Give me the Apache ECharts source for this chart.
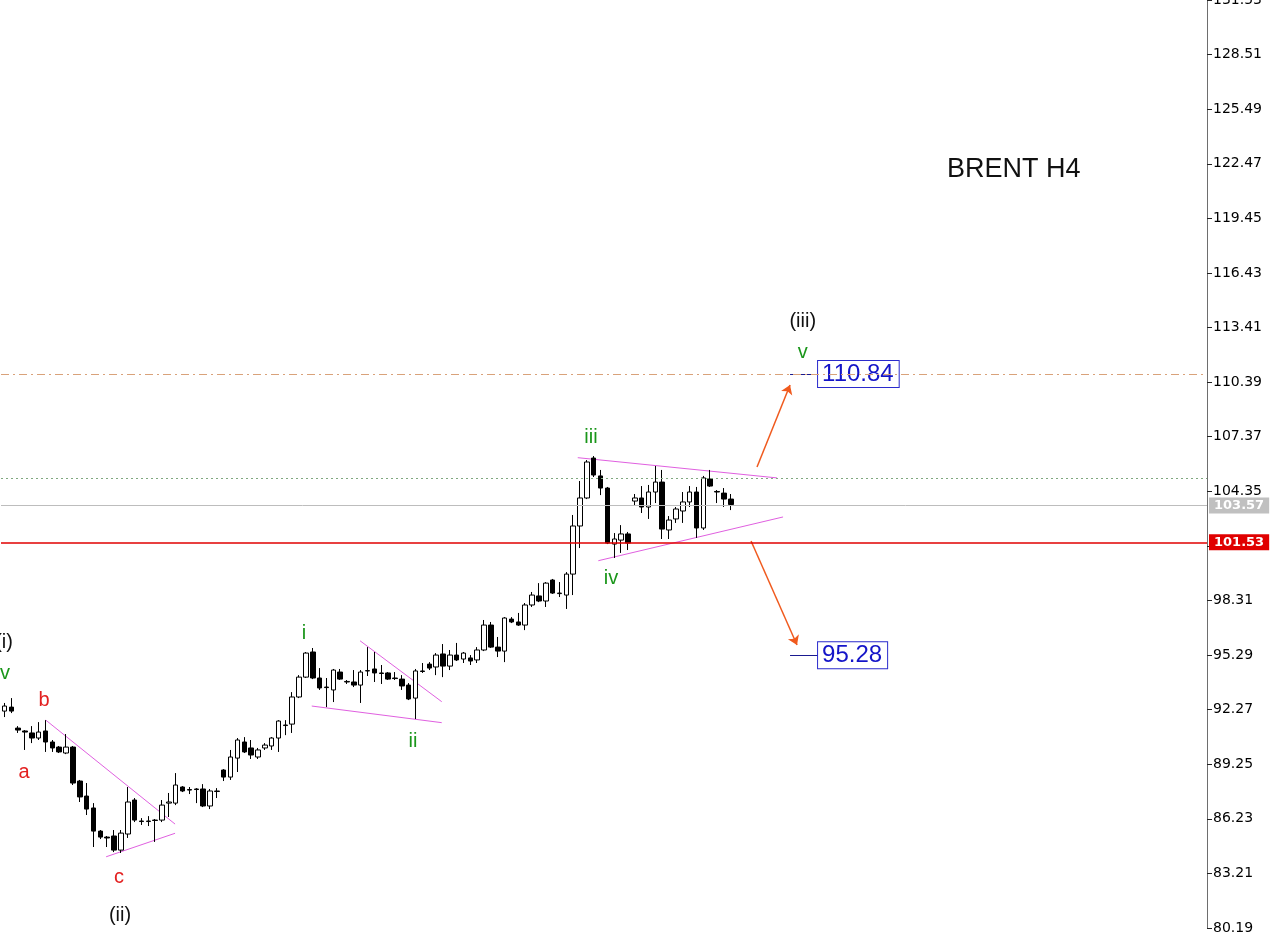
<!DOCTYPE html>
<html><head><meta charset="utf-8">
<script src="https://cdn.jsdelivr.net/npm/echarts/dist/echarts.min.js"></script>
<style>html,body{margin:0;padding:0;background:#fff}#c{width:1280px;height:940px}</style>
</head><body><div id="c"></div>
<script>
// ---- data (BRENT H4) ----
const categories = Array.from({length: 107}, (_, i) => 'Bar ' + (i + 1));
const opens  = [92.19,92.41,91.25,91.09,90.98,90.70,91.09,90.48,90.20,89.87,90.20,88.32,87.49,86.83,85.55,85.22,85.28,84.50,85.39,87.27,86.11,86.08,86.16,86.16,87.10,87.10,87.99,87.85,87.88,87.88,86.94,87.74,88.93,88.54,89.59,90.48,90.15,89.65,90.15,90.26,90.70,91.39,91.47,92.97,94.07,95.46,94.02,93.52,93.36,94.35,93.80,93.80,93.63,94.41,94.52,94.30,94.30,94.02,93.96,93.63,92.91,94.41,94.79,94.63,95.35,94.68,95.29,95.07,95.13,95.02,95.57,96.95,95.73,95.51,97.28,97.12,96.95,98.06,98.56,98.28,99.44,98.69,98.61,99.77,102.43,103.98,106.19,105.20,104.53,101.43,101.65,101.99,103.81,103.98,103.48,104.31,104.86,102.21,102.82,103.26,103.76,104.31,102.32,105.03,104.34,104.25,103.92];
const closes = [92.47,92.19,91.14,91.03,90.70,91.03,90.48,90.15,89.93,90.20,88.21,87.44,86.77,85.55,85.22,85.17,84.50,85.44,87.16,86.16,86.08,86.11,86.14,86.99,87.16,88.10,87.77,87.82,87.85,86.94,87.77,87.77,88.54,89.65,90.59,89.93,89.76,90.04,90.31,90.70,91.64,91.42,92.97,94.07,95.40,94.02,93.47,93.49,94.46,93.96,93.83,93.63,94.35,94.43,94.30,94.27,93.96,93.99,93.58,92.86,94.41,94.38,94.57,95.29,94.68,95.29,95.02,95.40,94.96,95.57,96.95,95.73,95.51,97.34,97.12,96.95,98.06,98.61,98.28,99.27,98.72,98.72,99.77,102.43,103.98,105.97,105.25,104.53,101.49,101.71,101.99,101.49,103.98,103.48,104.31,104.86,102.26,102.76,103.37,103.76,104.31,102.32,105.09,104.64,104.31,103.92,103.62];
const lows   = [91.86,92.08,90.98,90.04,90.42,90.59,89.93,89.93,89.87,89.81,88.10,87.16,86.44,84.67,85.11,84.67,84.39,84.34,85.17,86.05,85.89,85.83,84.95,86.05,86.33,86.99,87.71,87.60,87.10,86.88,86.77,87.38,88.32,88.38,88.82,89.87,89.54,89.54,90.04,90.04,89.93,90.86,90.98,92.91,94.02,93.96,93.36,92.41,92.69,93.91,93.69,93.52,92.64,94.13,93.80,93.69,93.91,93.91,93.36,92.80,91.75,94.30,94.46,94.18,94.07,94.46,94.96,94.85,94.74,94.85,95.51,95.68,95.18,94.90,97.06,96.90,96.67,97.95,98.22,97.95,98.67,98.50,97.84,98.61,101.21,103.92,105.14,104.14,101.43,100.66,100.94,101.10,103.59,103.15,102.82,103.70,101.71,101.71,102.60,102.60,103.48,101.77,102.21,104.59,103.70,103.48,103.31];
const highs  = [92.64,92.91,91.36,91.14,91.36,91.58,91.69,90.59,90.26,90.92,90.26,88.38,88.21,87.10,85.61,85.28,85.61,85.61,87.99,87.38,86.27,86.38,86.22,87.27,87.66,88.76,88.04,87.99,87.93,88.15,87.88,87.93,88.98,90.04,90.70,90.75,90.59,90.15,90.42,90.75,91.69,91.69,93.24,94.18,95.46,95.68,94.57,94.02,94.52,94.52,93.91,94.46,94.46,95.73,95.46,94.74,94.35,94.35,94.18,93.74,94.52,94.85,94.90,95.40,95.90,95.57,95.96,95.46,95.29,95.73,97.23,97.12,96.29,97.39,97.39,97.62,98.17,98.78,99.27,99.33,99.50,99.33,99.88,103.04,104.92,106.08,106.30,105.53,104.59,102.04,102.48,102.10,104.20,104.64,104.70,105.75,105.53,102.98,103.48,104.31,104.64,104.59,105.20,105.53,104.42,104.53,104.20];

// horizontal levels
const targetUp = 110.84;
const targetDown = 95.28;
const bidPrice = 103.57;
const supportLevel = 101.53;
const askLevel = 105.09;

// y-axis tick labels
const yMin = 80.19, yMax = 131.53, yStep = 3.02;

// Elliott wave labels: [bar index, price, text, kind]
const waveLabels = [
  [-0.06, 96.01, '(i)', 'black'],
  [0.08, 94.25, 'v', 'green'],
  [5.78, 92.80, 'b', 'red'],
  [2.86, 88.80, 'a', 'red'],
  [16.72, 83.0, 'c', 'red'],
  [16.87, 80.91, '(ii)', 'black'],
  [43.72, 96.51, 'i', 'green'],
  [59.63, 90.53, 'ii', 'green'],
  [85.6, 107.30, 'iii', 'green'],
  [88.52, 99.55, 'iv', 'green'],
  [116.5, 113.77, '(iii)', 'black'],
  [116.5, 112.05, 'v', 'green']
];

// trend lines: [[bar, price], [bar, price]]
const trendLines = [
  [[6.04, 91.69], [24.9, 85.94]],
  [[14.84, 84.13], [24.9, 85.43]],
  [[51.9, 96.08], [63.82, 92.71]],
  [[44.85, 92.47], [63.82, 91.55]],
  [[83.67, 106.21], [112.75, 105.09]],
  [[86.67, 100.51], [113.63, 102.93]]
];

// forecast arrows
const arrows = [
  [[109.83, 105.69], [114.65, 110.23]],
  [[108.96, 101.60], [115.67, 95.85]]
];

// target markers: [from bar, to bar, price]
const targets = [
  [114.65, 118.74, targetUp],
  [114.65, 118.74, targetDown]
];

// ---- chart ----
const SLOTS = 176;
const xCats = categories.concat(Array(SLOTS - categories.length).fill(''));
const candleData = opens.map((o, i) => [o, closes[i], lows[i], highs[i]]);
const colorOf = {black: '#111111', green: '#1a961a', red: '#e32020'};

const chart = echarts.init(document.getElementById('c'), null, {renderer: 'canvas'});
chart.setOption({
  animation: false,
  backgroundColor: '#ffffff',
  title: {
    text: 'BRENT H4', left: 942, top: 151,
    textStyle: {fontFamily: 'Liberation Sans', fontSize: 27, fontWeight: 'normal', color: '#111'}
  },
  grid: {left: 1, right: 73, top: 0, bottom: 12, containLabel: false, outerBoundsMode: 'none'},
  xAxis: [
    {type: 'category', data: xCats, boundaryGap: true, show: false},
    {type: 'value', min: -0.5, max: SLOTS - 0.5, show: false}
  ],
  yAxis: {
    type: 'value', position: 'right', min: yMin, max: yMax, interval: yStep,
    splitLine: {show: false},
    axisLine: {show: true, onZero: false, lineStyle: {color: '#6e6e6e', width: 1}},
    axisTick: {show: true, length: 5, lineStyle: {color: '#222'}},
    axisLabel: {
      formatter: v => v.toFixed(2), color: '#000', fontFamily: 'DejaVu Sans',
      fontSize: 14, margin: 6, showMinLabel: true, showMaxLabel: true
    }
  },
  series: [
    {
      type: 'candlestick', xAxisIndex: 0, yAxisIndex: 0, data: candleData, barWidth: 5,
      itemStyle: {color: '#ffffff', color0: '#000000', borderColor: '#000000', borderColor0: '#000000', borderWidth: 1},
      markLine: {
        silent: true, symbol: ['none', 'none'], animation: false,
        data: [
          {yAxis: targetUp, lineStyle: {color: '#d9a27a', type: [8, 4, 2, 4], width: 1}, label: {show: false}},
          {yAxis: askLevel, lineStyle: {color: '#7fa87f', type: [2, 3], width: 1}, label: {show: false}},
          {yAxis: bidPrice, lineStyle: {color: '#bdbdbd', type: 'solid', width: 1},
            label: {show: true, position: 'end', distance: 2, formatter: bidPrice.toFixed(2), backgroundColor: '#c0c0c0',
              color: '#ffffff', fontFamily: 'DejaVu Sans', fontWeight: 'bold', fontSize: 13, padding: [2, 5, 1, 5]}},
          {yAxis: supportLevel, lineStyle: {color: '#e00000', type: 'solid', width: 1.5},
            label: {show: true, position: 'end', distance: 2, formatter: supportLevel.toFixed(2), backgroundColor: '#e00000',
              color: '#ffffff', fontFamily: 'DejaVu Sans', fontWeight: 'bold', fontSize: 13, padding: [2, 5, 1, 5]}}
        ]
      }
    },
    {
      type: 'lines', coordinateSystem: 'cartesian2d', xAxisIndex: 1, yAxisIndex: 0, silent: true,
      lineStyle: {color: '#e060e0', width: 1, opacity: 1},
      data: trendLines.map(l => ({coords: l}))
    },
    {
      type: 'lines', coordinateSystem: 'cartesian2d', xAxisIndex: 1, yAxisIndex: 0, silent: true,
      symbol: ['none', 'arrow'], symbolSize: 9,
      lineStyle: {color: '#f05a1e', width: 1.5, opacity: 1},
      data: arrows.map(l => ({coords: l}))
    },
    {
      type: 'lines', coordinateSystem: 'cartesian2d', xAxisIndex: 1, yAxisIndex: 0, silent: true,
      lineStyle: {color: '#1a1a90', width: 1, opacity: 1},
      data: targets.map(t => ({coords: [[t[0], t[2]], [t[1], t[2]]]}))
    },
    {
      type: 'scatter', xAxisIndex: 1, yAxisIndex: 0, clip: false, silent: true, symbolSize: 0,
      itemStyle: {color: 'rgba(0,0,0,0)', opacity: 1},
      data: targets.map(t => ({
        value: [t[1], t[2]],
        label: {
          show: true, position: 'right', distance: 0, formatter: t[2].toFixed(2),
          color: '#1414c8', fontFamily: 'Liberation Sans', fontSize: 24, lineHeight: 25,
          borderColor: '#2a2acc', borderWidth: 1, backgroundColor: '#ffffff', padding: [1, 5, 0, 4], opacity: 1
        }
      }))
    },
    {
      type: 'scatter', xAxisIndex: 1, yAxisIndex: 0, clip: false, silent: true, symbolSize: 0,
      itemStyle: {color: 'rgba(0,0,0,0)', opacity: 1},
      data: waveLabels.map(w => ({
        value: [w[0], w[1]],
        label: {show: true, position: 'inside', formatter: w[2], color: colorOf[w[3]],
          fontFamily: 'Liberation Sans', fontSize: 20, opacity: 1}
      }))
    }
  ]
});
</script>
</body></html>
